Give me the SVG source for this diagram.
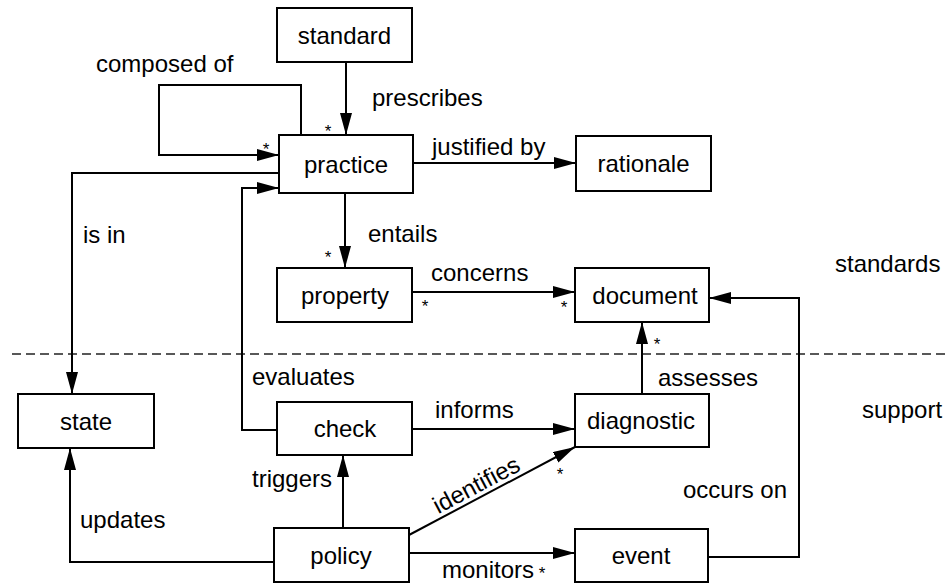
<svg xmlns="http://www.w3.org/2000/svg" width="946" height="584" viewBox="0 0 946 584">
<style>
  .box { fill: #ffffff; stroke: #000000; stroke-width: 2; }
  .nt { font-family: "Liberation Sans", Arial, sans-serif; font-size: 24px; fill: #000; text-anchor: middle; }
  .lbl { font-family: "Liberation Sans", Arial, sans-serif; font-size: 24px; fill: #000; }
  .star { font-family: "Liberation Sans", Arial, sans-serif; font-size: 17px; fill: #000; text-anchor: middle; }
  .edge { fill: none; stroke: #000; stroke-width: 2; marker-end: url(#arr); }
  .sep { stroke: #222; stroke-width: 1.5; stroke-dasharray: 9 5; fill: none; }
</style>
<defs>
  <marker id="arr" markerUnits="userSpaceOnUse" viewBox="0 0 22 12" refX="22" refY="6" markerWidth="22" markerHeight="12" orient="auto">
    <path d="M0,0 L22,6 L0,12 z" fill="#000"/>
  </marker>
</defs>
<rect width="946" height="584" fill="#ffffff"/>

<line id="separator" class="sep" x1="12" y1="354" x2="946" y2="354"/>
<text class="lbl" x="835" y="272">standards</text>
<text class="lbl" x="862" y="418">support</text>

<g id="connectors">
  <path class="edge" d="M346,62 L346,135"/>
  <path class="edge" d="M301,135 L301,85 L159,85 L159,155 L279,155"/>
  <path class="edge" d="M413,163 L576,163"/>
  <path class="edge" d="M345,193 L345,268"/>
  <path class="edge" d="M412,292 L575,292"/>
  <path class="edge" d="M279,173 L72,173 L72,394"/>
  <path class="edge" d="M277,430 L242,430 L242,188 L279,188"/>
  <path class="edge" d="M412,429 L575,429"/>
  <path class="edge" d="M642,394 L642,322"/>
  <path class="edge" d="M409,535 L575,447"/>
  <path class="edge" d="M409,553 L575,553"/>
  <path class="edge" d="M343,528 L343,455"/>
  <path class="edge" d="M274,562 L70,562 L70,448"/>
  <path class="edge" d="M708,557 L799,557 L799,298 L709,298"/>

  <text class="lbl" x="372" y="106">prescribes</text>
  <text class="lbl" x="96" y="72">composed of</text>
  <text class="lbl" x="432" y="155">justified by</text>
  <text class="lbl" x="368" y="242">entails</text>
  <text class="lbl" x="431" y="281">concerns</text>
  <text class="lbl" x="83" y="243">is in</text>
  <text class="lbl" x="252" y="385">evaluates</text>
  <text class="lbl" x="435" y="418">informs</text>
  <text class="lbl" x="658" y="386">assesses</text>
  <text class="lbl" x="480" y="492" text-anchor="middle" transform="rotate(-28 480 492)">identifies</text>
  <text class="lbl" x="442" y="578">monitors</text>
  <text class="lbl" x="252" y="487">triggers</text>
  <text class="lbl" x="80" y="528">updates</text>
  <text class="lbl" x="683" y="498">occurs on</text>

  <text class="star" x="328" y="137">*</text>
  <text class="star" x="266" y="155">*</text>
  <text class="star" x="328" y="263">*</text>
  <text class="star" x="425" y="312">*</text>
  <text class="star" x="564" y="313">*</text>
  <text class="star" x="657" y="350">*</text>
  <text class="star" x="560" y="480">*</text>
  <text class="star" x="542" y="579">*</text>
</g>

<g id="standard"><rect class="box" x="277" y="8" width="135" height="54"/><text class="nt" x="344.5" y="44">standard</text></g>
<g id="practice"><rect class="box" x="279" y="135" width="134" height="58"/><text class="nt" x="346" y="173">practice</text></g>
<g id="rationale"><rect class="box" x="576" y="136" width="135" height="55"/><text class="nt" x="643.5" y="172">rationale</text></g>
<g id="property"><rect class="box" x="277" y="268" width="135" height="54"/><text class="nt" x="345" y="304">property</text></g>
<g id="document"><rect class="box" x="575" y="268" width="134" height="54"/><text class="nt" x="645" y="304">document</text></g>
<g id="state"><rect class="box" x="18" y="394" width="136" height="54"/><text class="nt" x="86" y="430">state</text></g>
<g id="check"><rect class="box" x="277" y="402" width="135" height="53"/><text class="nt" x="345" y="437">check</text></g>
<g id="diagnostic"><rect class="box" x="575" y="394" width="134" height="53"/><text class="nt" x="641" y="429">diagnostic</text></g>
<g id="policy"><rect class="box" x="274" y="528" width="135" height="54"/><text class="nt" x="341" y="564">policy</text></g>
<g id="event"><rect class="box" x="575" y="529" width="133" height="53"/><text class="nt" x="641" y="564">event</text></g>
</svg>
